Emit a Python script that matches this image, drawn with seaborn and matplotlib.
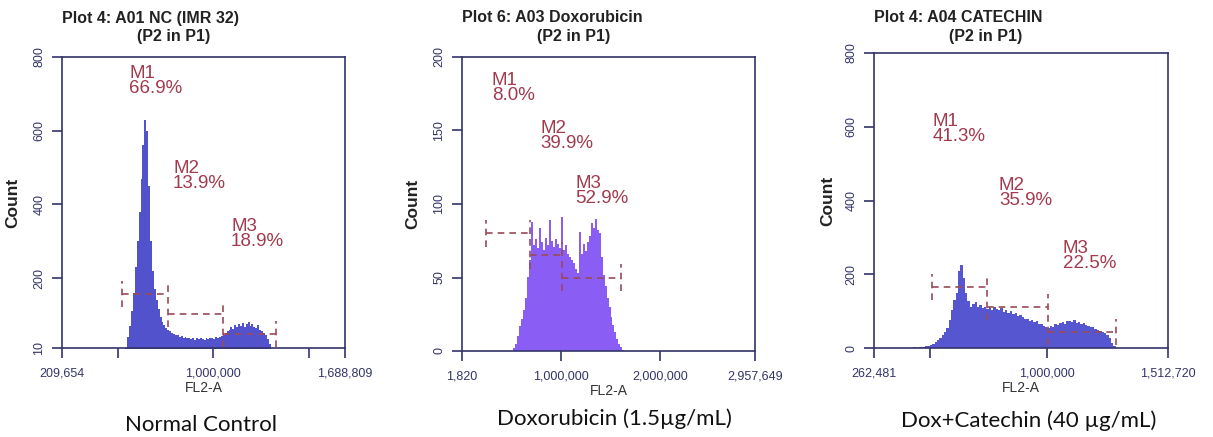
import numpy as np
import pandas as pd
import matplotlib.pyplot as plt
import seaborn as sns

# Panel texts
titles = ['Plot 4: A01 NC (IMR 32)', 'Plot 6: A03 Doxorubicin', 'Plot 4: A04 CATECHIN']
subtitle = '(P2 in P1)'
captions = ['Normal Control', 'Doxorubicin (1.5µg/mL)', 'Dox+Catechin (40 µg/mL)']

# FL2-A histograms: first bin edge, bin width, counts per bin
nc_start, nc_width = 540000, 10000
nc_counts = [10, 40, 70, 110, 160, 230, 300, 380, 470, 560,
             630, 600, 450, 300, 220, 170, 140, 115, 95, 80,
             72, 65, 58, 55, 50, 48, 45, 44, 40, 42,
             38, 40, 36, 38, 34, 37, 33, 36, 34, 38,
             35, 33, 37, 34, 36, 38, 35, 39, 37, 40,
             42, 45, 50, 56, 60, 66, 62, 72, 68, 75,
             70, 78, 66, 74, 80, 70, 76, 68, 64, 72,
             60, 56, 52, 44, 34, 20, 8]

dox_start, dox_width = 500000, 20000
dox_counts = [0, 2, 5, 10, 17, 22, 28, 36, 50, 62,
              88, 72, 76, 70, 84, 74, 69, 77, 72, 89,
              75, 71, 76, 73, 70, 91, 69, 72, 66, 64,
              62, 60, 56, 53, 81, 66, 73, 68, 74, 78,
              87, 84, 90, 82, 80, 64, 52, 44, 36, 30,
              23, 18, 13, 8, 5, 3, 1]

cat_start, cat_width = 430000, 10000
cat_counts = [2, 0, 4, 2, 3, 5, 6, 8, 12, 16,
              22, 27, 35, 44, 54, 75, 103, 130, 150, 210,
              225, 190, 150, 128, 112, 120, 125, 110, 116, 108,
              112, 106, 110, 104, 112, 106, 102, 108, 98, 104,
              96, 100, 92, 95, 88, 90, 84, 80, 78, 74,
              76, 70, 72, 66, 64, 60, 58, 55, 60, 58,
              64, 62, 68, 70, 66, 72, 74, 70, 76, 68,
              70, 66, 68, 62, 60, 58, 56, 52, 48, 46,
              44, 40, 34, 26, 14, 5, 0]

# Gate markers M1-M3: boundaries (FL2-A) and the level each bar is drawn at
nc_gate_edges = [523000, 764000, 1051000, 1328000]
nc_gate_levels = [157, 102, 48]
dox_gate_edges = [244000, 688000, 1011000, 1606000]
dox_gate_levels = [80, 65, 50]
cat_gate_edges = [509000, 743000, 1002000, 1292000]
cat_gate_levels = [165, 111, 43]

gate_names = ['M1', 'M2', 'M3']
nc_pcts = ['66.9%', '13.9%', '18.9%']
dox_pcts = ['8.0%', '39.9%', '52.9%']
cat_pcts = ['41.3%', '35.9%', '22.5%']

# Axis ranges and ticks
nc_xlim, nc_ylim = (209654, 1688809), (10, 800)
dox_xlim, dox_ylim = (1820, 2957649), (0, 200)
cat_xlim, cat_ylim = (262481, 1512720), (0, 800)
nc_xticks = [209654, 500000, 1000000, 1500000, 1688809]
nc_xlabels = ['209,654', '', '1,000,000', '', '1,688,809']
dox_xticks = [1820, 1000000, 2000000, 2957649]
dox_xlabels = ['1,820', '1,000,000', '2,000,000', '2,957,649']
cat_xticks = [262481, 500000, 1000000, 1512720]
cat_xlabels = ['262,481', '', '1,000,000', '1,512,720']
nc_yticks = [10, 200, 400, 600, 800]
dox_yticks = [0, 50, 100, 150, 200]
cat_yticks = [0, 200, 400, 600, 800]

sns.set_theme(style='white')
plt.rcParams['font.family'] = ['Liberation Sans', 'DejaVu Sans']

W, H = 1213, 437
fig = plt.figure(figsize=(W / 100, H / 100), dpi=100)

navy = '#34346a'
gate_col = '#9a4a5a'
text_col = '#a23a4e'

panels = [
    dict(start=nc_start, width=nc_width, counts=nc_counts, color='#5252cc',
         edges=nc_gate_edges, levels=nc_gate_levels, pcts=nc_pcts,
         xlim=nc_xlim, ylim=nc_ylim, xticks=nc_xticks, xlabels=nc_xlabels, yticks=nc_yticks,
         box=(62, 57, 345, 348), count_x=13,
         label_pos=[(560000, 778), (790000, 520), (1093000, 363)]),
    dict(start=dox_start, width=dox_width, counts=dox_counts, color='#8a5ef4',
         edges=dox_gate_edges, levels=dox_gate_levels, pcts=dox_pcts,
         xlim=dox_xlim, ylim=dox_ylim, xticks=dox_xticks, xlabels=dox_xlabels, yticks=dox_yticks,
         box=(462, 57, 755, 351), count_x=413,
         label_pos=[(304000, 190), (789000, 157), (1142000, 120)]),
    dict(start=cat_start, width=cat_width, counts=cat_counts, color='#5656d0',
         edges=cat_gate_edges, levels=cat_gate_levels, pcts=cat_pcts,
         xlim=cat_xlim, ylim=cat_ylim, xticks=cat_xticks, xlabels=cat_xlabels, yticks=cat_yticks,
         box=(874, 53, 1168, 348), count_x=828,
         label_pos=[(513000, 637), (794000, 464), (1066000, 293)]),
]

for i, p in enumerate(panels):
    l, t, r, b = p['box']
    ax = fig.add_axes([l / W, 1 - b / H, (r - l) / W, (b - t) / H])
    n = len(p['counts'])
    centers = p['start'] + p['width'] * (np.arange(n) + 0.5)
    hist_df = pd.DataFrame({'FL2-A': centers, 'Count': p['counts']})
    sns.histplot(data=hist_df, x='FL2-A', weights='Count', binwidth=p['width'],
                 binrange=(p['start'], p['start'] + n * p['width']), element='step', fill=True,
                 color=p['color'], alpha=1, linewidth=0, ax=ax)

    # gate brackets
    ymin, ymax = p['ylim']
    half = 0.045 * (ymax - ymin)
    ed, lv = p['edges'], p['levels']
    for k in range(3):
        ax.plot([ed[k], ed[k + 1]], [lv[k], lv[k]], ls=(0, (4, 3)), color=gate_col, lw=1.2)
    for k, x in enumerate(ed):
        if k == 0:
            lo, hi = lv[0] - half, lv[0] + half
        elif k == 3:
            lo, hi = lv[2] - half, lv[2] + half
        else:
            lo, hi = lv[k] - half, lv[k - 1] + half
        ax.plot([x, x], [lo, hi], ls=(0, (4, 3)), color=gate_col, lw=1.2)

    for k, (gx, gy) in enumerate(p['label_pos']):
        ax.text(gx, gy, gate_names[k] + '\n' + p['pcts'][k], ha='left', va='top',
                fontsize=13.5, color=text_col, linespacing=0.85)

    ax.set_xlim(p['xlim'])
    ax.set_ylim(p['ylim'])
    ax.set_xticks(p['xticks'])
    ax.set_xticklabels(p['xlabels'])
    ax.set_yticks(p['yticks'])
    ax.set_yticklabels([str(v) for v in p['yticks']], rotation=90, va='center')
    ax.tick_params(axis='both', colors=navy, length=7, width=1.2, direction='out',
                   labelsize=9, pad=5, bottom=True, left=True)
    ax.tick_params(axis='x', pad=7)
    for s in ax.spines.values():
        s.set_color(navy)
        s.set_linewidth(1.2)

    ax.set_ylabel('Count', fontsize=12.5, fontweight='bold', color='#222222')
    ax.yaxis.label.set_va('center')
    ax.yaxis.set_label_coords(-(l - p['count_x']) / (r - l), 0.5)
    ax.set_xlabel('FL2-A', fontsize=10, color='#333333')
    ax.xaxis.set_label_coords(0.5, -40 / (b - t))
    ax.xaxis.label.set_va('center')

    # title lines
    fig.text(l / W, 1 - 18 / H, titles[i], ha='left', va='center', fontsize=11.5,
             fontweight='bold', color='#222222')
    fig.text((l + 112) / W, 1 - 37 / H, subtitle, ha='center', va='center', fontsize=11.5,
             fontweight='bold', color='#222222')

cap_x = [201, 614, 1029]
cap_y = [425, 419, 421]
for i in range(3):
    fig.text(cap_x[i] / W, 1 - cap_y[i] / H, captions[i], ha='center', va='center',
             fontsize=16, family=['Lato', 'DejaVu Sans'], color='#111111')

fig.savefig('out.png', dpi=100)
